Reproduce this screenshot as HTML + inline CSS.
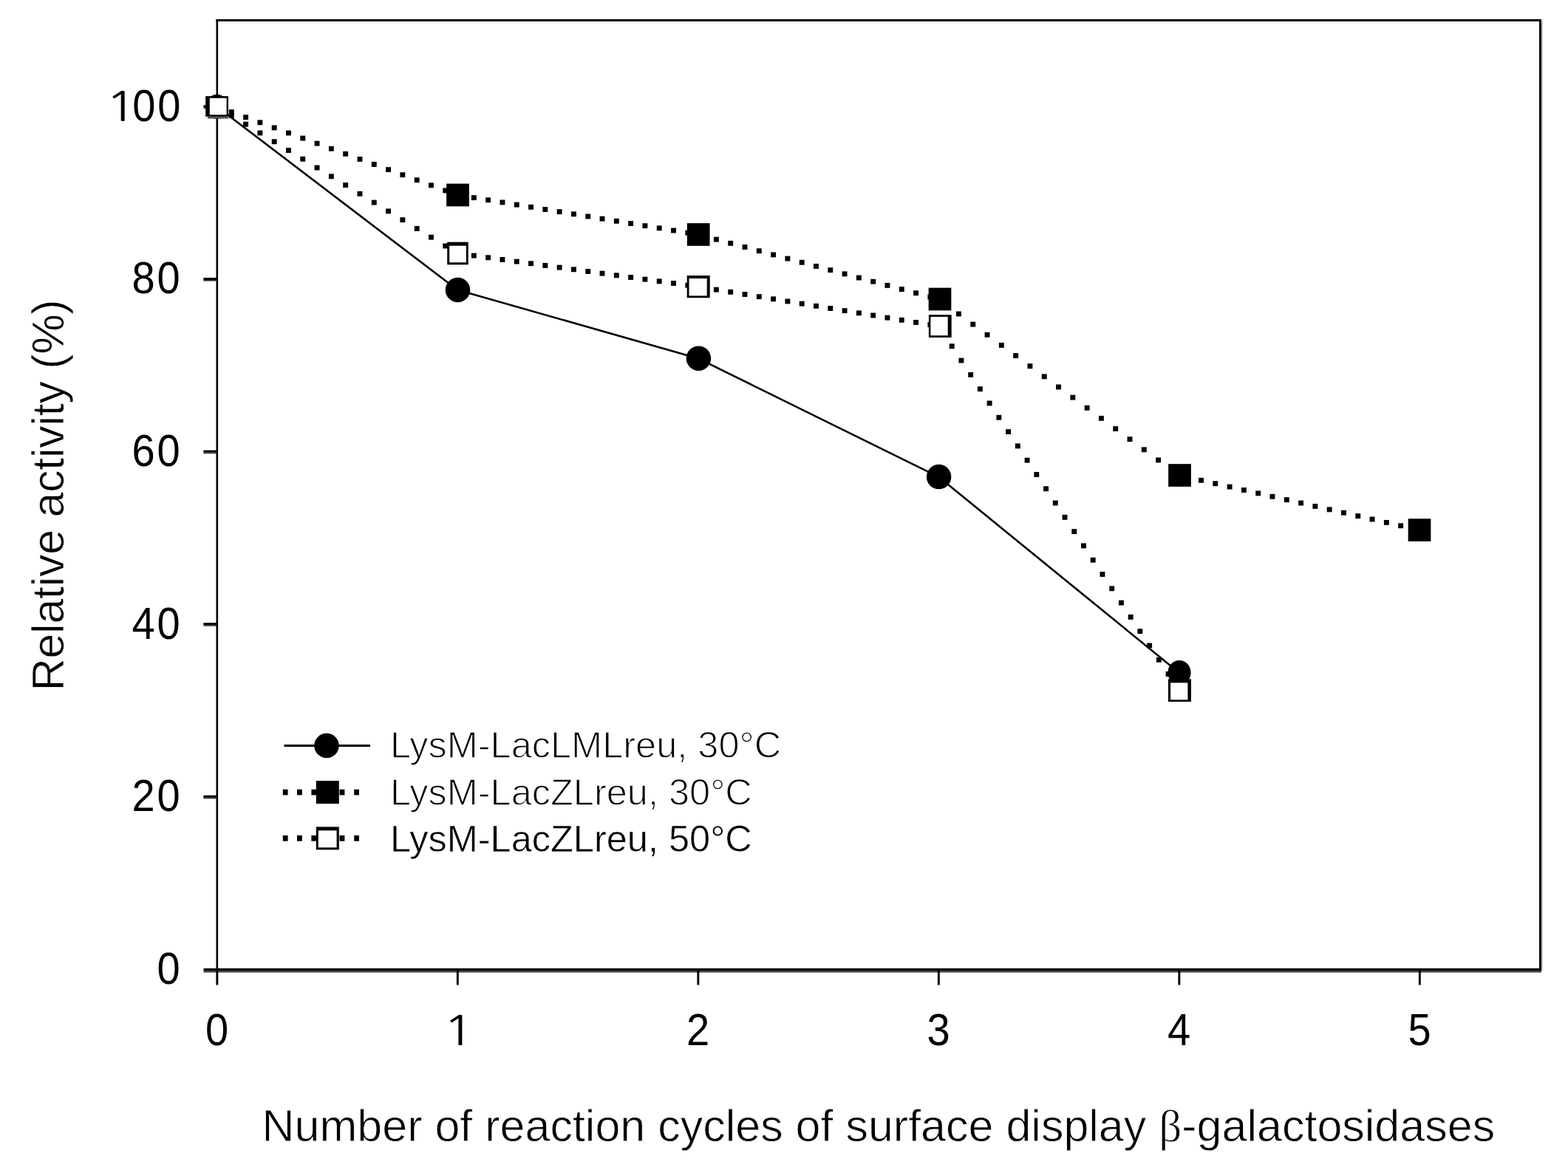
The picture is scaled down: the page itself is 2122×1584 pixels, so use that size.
<!DOCTYPE html>
<html><head><meta charset="utf-8"><title>Relative activity chart</title>
<style>
html,body{margin:0;padding:0;background:#fff;}
body{width:2122px;height:1584px;overflow:hidden;}
svg{display:block;}
text{font-family:"Liberation Sans",Arial,sans-serif;fill:#000;}
</style></head><body>
<svg width="2122" height="1584" viewBox="0 0 2122 1584">
<rect width="2122" height="1584" fill="#fff"/>
<rect x="292.5" y="26" width="1793.5" height="3" fill="#000"/>
<rect x="292.5" y="26" width="2.6" height="1290" fill="#000"/>
<rect x="2083" y="26" width="3" height="1288" fill="#000"/>
<rect x="2086" y="29" width="2" height="1285" fill="#c8c8c8"/>
<rect x="275.5" y="1311" width="1810.5" height="3" fill="#000"/>
<rect x="275.5" y="1314" width="1810.5" height="2.6" fill="#434343"/>
<rect x="275.4" y="1076.8" width="18" height="3" fill="#000"/>
<rect x="275.4" y="1079.8" width="18" height="1.6" fill="#333"/>
<rect x="275.4" y="843.2" width="18" height="3" fill="#000"/>
<rect x="275.4" y="846.2" width="18" height="1.6" fill="#333"/>
<rect x="275.4" y="609.6" width="18" height="3" fill="#000"/>
<rect x="275.4" y="612.6" width="18" height="1.6" fill="#333"/>
<rect x="275.4" y="376" width="18" height="3" fill="#000"/>
<rect x="275.4" y="379" width="18" height="1.6" fill="#333"/>
<rect x="275.4" y="142.4" width="18" height="3" fill="#000"/>
<rect x="275.4" y="145.4" width="18" height="1.6" fill="#333"/>
<rect x="292.4" y="1311" width="2.9" height="22.5" fill="#000"/>
<rect x="617.9" y="1311" width="2.9" height="22.5" fill="#000"/>
<rect x="943.4" y="1311" width="2.9" height="22.5" fill="#000"/>
<rect x="1268.9" y="1311" width="2.9" height="22.5" fill="#000"/>
<rect x="1594.4" y="1311" width="2.9" height="22.5" fill="#000"/>
<rect x="1919.9" y="1311" width="2.9" height="22.5" fill="#000"/>
<text transform="translate(0,1331.8) scale(0.92,1)" x="248.04" y="0" text-anchor="middle" font-size="61">0</text>
<text transform="translate(0,1098.2) scale(0.92,1)" x="210.87 248.04" y="0" text-anchor="middle" font-size="61">20</text>
<text transform="translate(0,864.6) scale(0.92,1)" x="210.87 248.04" y="0" text-anchor="middle" font-size="61">40</text>
<text transform="translate(0,631) scale(0.92,1)" x="210.87 248.04" y="0" text-anchor="middle" font-size="61">60</text>
<text transform="translate(0,397.4) scale(0.92,1)" x="210.87 248.04" y="0" text-anchor="middle" font-size="61">80</text>
<text transform="translate(0,163.8) scale(0.92,1)" y="0" text-anchor="middle" font-size="61"><tspan x="178.12" style="font-family:NanumGothic,'Liberation Sans',sans-serif" font-size="55" textLength="47.11" lengthAdjust="spacingAndGlyphs">1</tspan><tspan x="211.85 248.8">00</tspan></text>
<text transform="translate(0,1415.3) scale(0.92,1)" x="319.24" y="0" text-anchor="middle" font-size="61">0</text>
<text transform="translate(0,1415.3) scale(0.92,1)" x="1026.85" y="0" text-anchor="middle" font-size="61">2</text>
<text transform="translate(0,1415.3) scale(0.92,1)" x="1380.65" y="0" text-anchor="middle" font-size="61">3</text>
<text transform="translate(0,1415.3) scale(0.92,1)" x="1734.46" y="0" text-anchor="middle" font-size="61">4</text>
<text transform="translate(0,1415.3) scale(0.92,1)" x="2088.26" y="0" text-anchor="middle" font-size="61">5</text>
<text transform="translate(598.9,1415.3) scale(1.3,1)" style="font-family:NanumGothic,'Liberation Sans',sans-serif" font-size="55">1</text>
<text x="354.5" y="1545" font-size="61" stroke="#fff" stroke-width="0.8">Number of reaction cycles of surface display <tspan font-family="Liberation Serif, serif">β</tspan>-galactosidases</text>
<text transform="translate(86.4,935.3) rotate(-90)" font-size="61" letter-spacing="-0.28" stroke="#fff" stroke-width="0.7">Relative activity (%)</text>
<polyline points="293.7,144.5 619.2,392.5 944.7,485.2 1270.2,645.6 1595.7,910.7" fill="none" stroke="#000" stroke-width="2.6" stroke-linejoin="round"/>
<ellipse cx="293.7" cy="144.5" rx="15" ry="16.75"/>
<ellipse cx="619.5" cy="392.5" rx="16.75" ry="16.75"/>
<ellipse cx="945.4" cy="485.2" rx="16.75" ry="16.75"/>
<ellipse cx="1270.6" cy="645.6" rx="16.75" ry="16.75"/>
<ellipse cx="1596" cy="910.7" rx="15.6" ry="16.75"/>
<g><rect x="290.55" y="141.16" width="6.9" height="6.9"/>
<rect x="309.85" y="148.24" width="6.9" height="6.9"/>
<rect x="329.14" y="155.33" width="6.9" height="6.9"/>
<rect x="348.44" y="162.41" width="6.9" height="6.9"/>
<rect x="367.74" y="169.5" width="6.9" height="6.9"/>
<rect x="387.04" y="176.58" width="6.9" height="6.9"/>
<rect x="406.33" y="183.67" width="6.9" height="6.9"/>
<rect x="425.63" y="190.75" width="6.9" height="6.9"/>
<rect x="444.93" y="197.84" width="6.9" height="6.9"/>
<rect x="464.22" y="204.92" width="6.9" height="6.9"/>
<rect x="483.52" y="212" width="6.9" height="6.9"/>
<rect x="502.82" y="219.09" width="6.9" height="6.9"/>
<rect x="522.11" y="226.17" width="6.9" height="6.9"/>
<rect x="541.41" y="233.26" width="6.9" height="6.9"/>
<rect x="560.71" y="240.34" width="6.9" height="6.9"/>
<rect x="580" y="247.43" width="6.9" height="6.9"/>
<rect x="599.3" y="254.51" width="6.9" height="6.9"/>
<rect x="618.6" y="261.02" width="6.9" height="6.9"/>
<rect x="637.9" y="264.19" width="6.9" height="6.9"/>
<rect x="657.19" y="267.36" width="6.9" height="6.9"/>
<rect x="676.49" y="270.53" width="6.9" height="6.9"/>
<rect x="695.79" y="273.71" width="6.9" height="6.9"/>
<rect x="715.08" y="276.88" width="6.9" height="6.9"/>
<rect x="734.38" y="280.05" width="6.9" height="6.9"/>
<rect x="753.68" y="283.22" width="6.9" height="6.9"/>
<rect x="772.97" y="286.39" width="6.9" height="6.9"/>
<rect x="792.27" y="289.56" width="6.9" height="6.9"/>
<rect x="811.57" y="292.74" width="6.9" height="6.9"/>
<rect x="830.87" y="295.91" width="6.9" height="6.9"/>
<rect x="850.16" y="299.08" width="6.9" height="6.9"/>
<rect x="869.46" y="302.25" width="6.9" height="6.9"/>
<rect x="888.76" y="305.42" width="6.9" height="6.9"/>
<rect x="908.05" y="308.59" width="6.9" height="6.9"/>
<rect x="927.35" y="311.77" width="6.9" height="6.9"/>
<rect x="946.65" y="315.5" width="6.9" height="6.9"/>
<rect x="965.94" y="320.69" width="6.9" height="6.9"/>
<rect x="985.24" y="325.88" width="6.9" height="6.9"/>
<rect x="1004.54" y="331.06" width="6.9" height="6.9"/>
<rect x="1023.84" y="336.25" width="6.9" height="6.9"/>
<rect x="1043.13" y="341.44" width="6.9" height="6.9"/>
<rect x="1062.43" y="346.63" width="6.9" height="6.9"/>
<rect x="1081.73" y="351.81" width="6.9" height="6.9"/>
<rect x="1101.02" y="357" width="6.9" height="6.9"/>
<rect x="1120.32" y="362.19" width="6.9" height="6.9"/>
<rect x="1139.62" y="367.37" width="6.9" height="6.9"/>
<rect x="1158.91" y="372.56" width="6.9" height="6.9"/>
<rect x="1178.21" y="377.75" width="6.9" height="6.9"/>
<rect x="1197.51" y="382.94" width="6.9" height="6.9"/>
<rect x="1216.81" y="388.12" width="6.9" height="6.9"/>
<rect x="1236.1" y="393.31" width="6.9" height="6.9"/>
<rect x="1255.4" y="398.5" width="6.9" height="6.9"/>
<rect x="1274.7" y="407.37" width="6.9" height="6.9"/>
<rect x="1293.99" y="421.51" width="6.9" height="6.9"/>
<rect x="1313.29" y="435.65" width="6.9" height="6.9"/>
<rect x="1332.59" y="449.79" width="6.9" height="6.9"/>
<rect x="1351.88" y="463.93" width="6.9" height="6.9"/>
<rect x="1371.18" y="478.07" width="6.9" height="6.9"/>
<rect x="1390.48" y="492.21" width="6.9" height="6.9"/>
<rect x="1409.78" y="506.35" width="6.9" height="6.9"/>
<rect x="1429.07" y="520.49" width="6.9" height="6.9"/>
<rect x="1448.37" y="534.63" width="6.9" height="6.9"/>
<rect x="1467.67" y="548.77" width="6.9" height="6.9"/>
<rect x="1486.96" y="562.9" width="6.9" height="6.9"/>
<rect x="1506.26" y="577.04" width="6.9" height="6.9"/>
<rect x="1525.56" y="591.18" width="6.9" height="6.9"/>
<rect x="1544.86" y="605.32" width="6.9" height="6.9"/>
<rect x="1564.15" y="619.46" width="6.9" height="6.9"/>
<rect x="1583.45" y="633.6" width="6.9" height="6.9"/>
<rect x="1602.75" y="642.44" width="6.9" height="6.9"/>
<rect x="1622.04" y="646.83" width="6.9" height="6.9"/>
<rect x="1641.34" y="651.23" width="6.9" height="6.9"/>
<rect x="1660.64" y="655.62" width="6.9" height="6.9"/>
<rect x="1679.93" y="660.01" width="6.9" height="6.9"/>
<rect x="1699.23" y="664.4" width="6.9" height="6.9"/>
<rect x="1718.53" y="668.8" width="6.9" height="6.9"/>
<rect x="1737.83" y="673.19" width="6.9" height="6.9"/>
<rect x="1757.12" y="677.58" width="6.9" height="6.9"/>
<rect x="1776.42" y="681.98" width="6.9" height="6.9"/>
<rect x="1795.72" y="686.37" width="6.9" height="6.9"/>
<rect x="1815.01" y="690.76" width="6.9" height="6.9"/>
<rect x="1834.31" y="695.15" width="6.9" height="6.9"/>
<rect x="1853.61" y="699.55" width="6.9" height="6.9"/>
<rect x="1872.9" y="703.94" width="6.9" height="6.9"/>
<rect x="1892.2" y="708.33" width="6.9" height="6.9"/>
<rect x="1911.5" y="712.73" width="6.9" height="6.9"/></g>
<rect x="278.4" y="130.4" width="30.6" height="27.2"/>
<rect x="604.15" y="248.65" width="30.7" height="30.7"/>
<rect x="929.85" y="302.15" width="30.7" height="30.7"/>
<rect x="1256.65" y="389.65" width="30.7" height="30.7"/>
<rect x="1581.15" y="628.15" width="30.7" height="30.7"/>
<rect x="1905.65" y="702.25" width="30.7" height="30.7"/>
<g><rect x="290.55" y="141.23" width="6.9" height="6.9"/>
<rect x="309.85" y="153" width="6.9" height="6.9"/>
<rect x="329.14" y="164.77" width="6.9" height="6.9"/>
<rect x="348.44" y="176.54" width="6.9" height="6.9"/>
<rect x="367.74" y="188.3" width="6.9" height="6.9"/>
<rect x="387.04" y="200.07" width="6.9" height="6.9"/>
<rect x="406.33" y="211.84" width="6.9" height="6.9"/>
<rect x="425.63" y="223.61" width="6.9" height="6.9"/>
<rect x="444.93" y="235.38" width="6.9" height="6.9"/>
<rect x="464.22" y="247.14" width="6.9" height="6.9"/>
<rect x="483.52" y="258.91" width="6.9" height="6.9"/>
<rect x="502.82" y="270.68" width="6.9" height="6.9"/>
<rect x="522.11" y="282.45" width="6.9" height="6.9"/>
<rect x="541.41" y="294.22" width="6.9" height="6.9"/>
<rect x="560.71" y="305.98" width="6.9" height="6.9"/>
<rect x="580" y="317.75" width="6.9" height="6.9"/>
<rect x="599.3" y="329.52" width="6.9" height="6.9"/>
<rect x="618.6" y="339.94" width="6.9" height="6.9"/>
<rect x="637.9" y="342.62" width="6.9" height="6.9"/>
<rect x="657.19" y="345.29" width="6.9" height="6.9"/>
<rect x="676.49" y="347.97" width="6.9" height="6.9"/>
<rect x="695.79" y="350.64" width="6.9" height="6.9"/>
<rect x="715.08" y="353.31" width="6.9" height="6.9"/>
<rect x="734.38" y="355.99" width="6.9" height="6.9"/>
<rect x="753.68" y="358.66" width="6.9" height="6.9"/>
<rect x="772.97" y="361.33" width="6.9" height="6.9"/>
<rect x="792.27" y="364.01" width="6.9" height="6.9"/>
<rect x="811.57" y="366.68" width="6.9" height="6.9"/>
<rect x="830.87" y="369.36" width="6.9" height="6.9"/>
<rect x="850.16" y="372.03" width="6.9" height="6.9"/>
<rect x="869.46" y="374.7" width="6.9" height="6.9"/>
<rect x="888.76" y="377.38" width="6.9" height="6.9"/>
<rect x="908.05" y="380.05" width="6.9" height="6.9"/>
<rect x="927.35" y="382.72" width="6.9" height="6.9"/>
<rect x="946.65" y="385.54" width="6.9" height="6.9"/>
<rect x="965.94" y="388.7" width="6.9" height="6.9"/>
<rect x="985.24" y="391.87" width="6.9" height="6.9"/>
<rect x="1004.54" y="395.03" width="6.9" height="6.9"/>
<rect x="1023.84" y="398.2" width="6.9" height="6.9"/>
<rect x="1043.13" y="401.36" width="6.9" height="6.9"/>
<rect x="1062.43" y="404.53" width="6.9" height="6.9"/>
<rect x="1081.73" y="407.7" width="6.9" height="6.9"/>
<rect x="1101.02" y="410.86" width="6.9" height="6.9"/>
<rect x="1120.32" y="414.03" width="6.9" height="6.9"/>
<rect x="1139.62" y="417.19" width="6.9" height="6.9"/>
<rect x="1158.91" y="420.36" width="6.9" height="6.9"/>
<rect x="1178.21" y="423.52" width="6.9" height="6.9"/>
<rect x="1197.51" y="426.69" width="6.9" height="6.9"/>
<rect x="1216.81" y="429.86" width="6.9" height="6.9"/>
<rect x="1236.1" y="433.02" width="6.9" height="6.9"/>
<rect x="1255.4" y="436.19" width="6.9" height="6.9"/>
<rect x="1271.99" y="446" width="6.9" height="6.9"/>
<rect x="1284.73" y="465.29" width="6.9" height="6.9"/>
<rect x="1297.47" y="484.59" width="6.9" height="6.9"/>
<rect x="1310.2" y="503.89" width="6.9" height="6.9"/>
<rect x="1322.94" y="523.18" width="6.9" height="6.9"/>
<rect x="1335.67" y="542.48" width="6.9" height="6.9"/>
<rect x="1348.41" y="561.78" width="6.9" height="6.9"/>
<rect x="1361.14" y="581.08" width="6.9" height="6.9"/>
<rect x="1373.88" y="600.37" width="6.9" height="6.9"/>
<rect x="1386.61" y="619.67" width="6.9" height="6.9"/>
<rect x="1399.35" y="638.97" width="6.9" height="6.9"/>
<rect x="1412.09" y="658.26" width="6.9" height="6.9"/>
<rect x="1424.82" y="677.56" width="6.9" height="6.9"/>
<rect x="1437.56" y="696.86" width="6.9" height="6.9"/>
<rect x="1450.29" y="716.15" width="6.9" height="6.9"/>
<rect x="1463.03" y="735.45" width="6.9" height="6.9"/>
<rect x="1475.76" y="754.75" width="6.9" height="6.9"/>
<rect x="1488.5" y="774.05" width="6.9" height="6.9"/>
<rect x="1501.23" y="793.34" width="6.9" height="6.9"/>
<rect x="1513.97" y="812.64" width="6.9" height="6.9"/>
<rect x="1526.71" y="831.94" width="6.9" height="6.9"/>
<rect x="1539.44" y="851.23" width="6.9" height="6.9"/>
<rect x="1552.18" y="870.53" width="6.9" height="6.9"/>
<rect x="1564.91" y="889.83" width="6.9" height="6.9"/>
<rect x="1577.65" y="909.12" width="6.9" height="6.9"/>
<rect x="1590.38" y="928.42" width="6.9" height="6.9"/></g>
<rect x="278.4" y="130.4" width="30.6" height="27.2"/>
<rect x="283.8" y="132.8" width="22.8" height="22.6" fill="#fff"/>
<rect x="605.2" y="327.7" width="28.5" height="30.6"/>
<rect x="608.2" y="332.7" width="22.7" height="22.6" fill="#fff"/>
<rect x="929.7" y="373" width="31" height="30.2"/>
<rect x="932.5" y="377" width="24.2" height="23.4" fill="#fff"/>
<rect x="1256.9" y="426.2" width="30.8" height="30.7"/>
<rect x="1259.4" y="428.9" width="23.3" height="25.3" fill="#fff"/>
<rect x="1580.9" y="919.4" width="31" height="30.6"/>
<rect x="1584.1" y="924.4" width="23.3" height="23" fill="#fff"/>
<rect x="281" y="157.6" width="28" height="3" fill="#555"/>
<rect x="384.5" y="1008" width="116.5" height="3"/>
<circle cx="442" cy="1009.5" r="16.75"/>
<rect x="382.8" y="1068.75" width="6.8" height="7.7"/>
<rect x="402" y="1068.75" width="6.8" height="7.7"/>
<rect x="421.4" y="1068.75" width="6.8" height="7.7"/>
<rect x="459.6" y="1068.75" width="6.8" height="7.7"/>
<rect x="479.2" y="1068.75" width="6.8" height="7.7"/>
<rect x="427.8" y="1057.1" width="31" height="31"/>
<rect x="382.8" y="1131.05" width="6.8" height="7.7"/>
<rect x="402" y="1131.05" width="6.8" height="7.7"/>
<rect x="421.4" y="1131.05" width="6.8" height="7.7"/>
<rect x="459.6" y="1131.05" width="6.8" height="7.7"/>
<rect x="479.2" y="1131.05" width="6.8" height="7.7"/>
<rect x="427.8" y="1119.4" width="31" height="31" fill="#000"/><rect x="430.8" y="1124.4" width="24.8" height="23" fill="#fff"/>
<text x="528" y="1026.2" font-size="50.5" stroke="#fff" stroke-width="1.3">LysM-LacLMLreu, 30°C</text>
<text x="528" y="1089.5" font-size="50.5" stroke="#fff" stroke-width="1.3">LysM-LacZLreu, 30°C</text>
<text x="528" y="1152.5" font-size="50.5" stroke="#fff" stroke-width="0.6">LysM-LacZLreu, 50°C</text>
</svg>
</body></html>
